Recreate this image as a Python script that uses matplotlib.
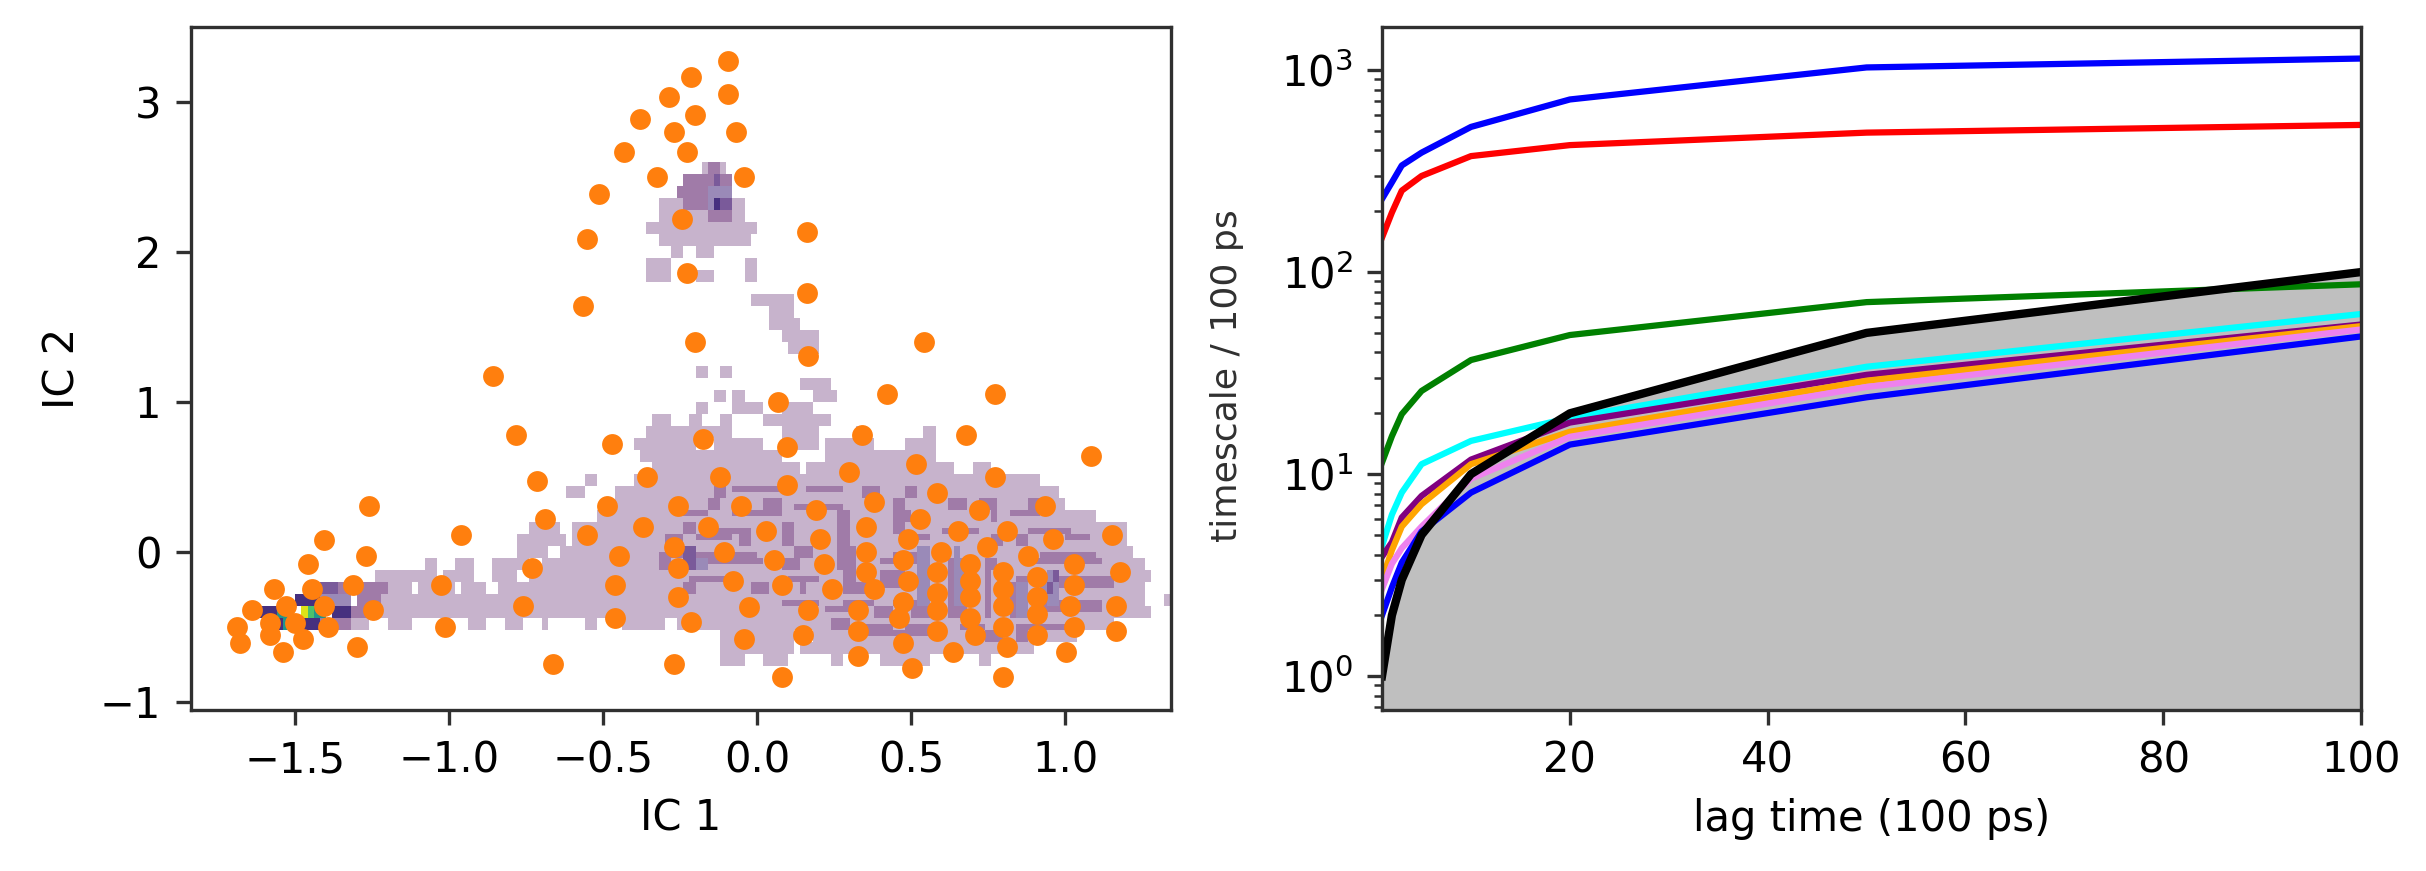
import matplotlib
matplotlib.use("Agg")
import matplotlib.pyplot as plt
import numpy as np
from matplotlib.colors import ListedColormap

# cluster centres
centers_x = [-0.784,-0.472,-0.716,-0.358,-1.259,-0.486,-0.690,-0.370,-1.407,-0.960,-0.554,-1.271,-0.447,-1.460,-0.730,
	-1.570,-1.447,-1.312,-1.028,-0.460,-1.639,-1.530,-1.407,-1.246,-0.759,-0.460,-1.690,-1.583,-1.501,-1.393,-1.014,
	-1.583,-1.678,-1.475,-1.298,-1.541,-0.662,-0.857,
	-0.203,0.542,0.165,0.421,0.773,0.069,-0.176,0.340,0.678,0.096,1.084,0.516,-0.122,0.299,0.773,0.096,0.585,0.379,
	-0.256,-0.053,0.191,0.719,0.934,0.529,-0.161,0.352,0.028,0.651,0.813,1.153,0.203,0.489,0.961,-0.271,0.747,-0.109,
	0.352,0.597,0.881,0.054,-0.256,0.217,0.473,0.692,1.029,0.352,0.585,0.800,1.179,0.908,-0.079,0.489,0.692,0.082,
	1.029,0.244,0.379,0.585,0.800,0.908,0.692,-0.256,0.473,-0.026,1.166,1.015,0.585,0.800,0.165,0.326,0.692,0.908,
	0.460,-0.216,0.800,0.585,1.029,0.326,1.166,0.149,0.707,0.908,-0.041,0.475,0.637,0.813,0.326,1.004,-0.271,0.502,
	0.082,0.800,
	-0.094,-0.216,-0.094,-0.285,-0.203,-0.379,-0.271,-0.067,-0.433,-0.229,-0.324,-0.041,-0.515,-0.243,0.163,-0.554,
	-0.229,0.163,-0.567]
centers_y = [0.778,0.722,0.471,0.500,0.305,0.305,0.222,0.167,0.082,0.109,0.109,-0.029,-0.029,-0.082,-0.111,
	-0.249,-0.249,-0.222,-0.222,-0.222,-0.389,-0.362,-0.362,-0.389,-0.362,-0.444,-0.504,-0.478,-0.478,-0.500,-0.500,
	-0.556,-0.611,-0.584,-0.638,-0.667,-0.749,1.175,
	1.400,1.400,1.305,1.055,1.055,0.998,0.749,0.776,0.776,0.696,0.636,0.583,0.500,0.529,0.500,0.445,0.389,0.333,
	0.307,0.307,0.278,0.278,0.307,0.222,0.167,0.167,0.140,0.140,0.140,0.111,0.084,0.084,0.084,0.029,0.029,0.000,
	0.000,0.000,-0.027,-0.055,-0.111,-0.082,-0.055,-0.082,-0.082,-0.137,-0.137,-0.137,-0.137,-0.167,-0.193,-0.193,-0.193,-0.222,
	-0.222,-0.249,-0.249,-0.278,-0.249,-0.304,-0.304,-0.304,-0.333,-0.367,-0.362,-0.362,-0.389,-0.362,-0.389,-0.389,-0.444,-0.415,
	-0.444,-0.471,-0.500,-0.529,-0.500,-0.529,-0.529,-0.556,-0.556,-0.556,-0.582,-0.611,-0.667,-0.638,-0.693,-0.667,-0.749,-0.778,
	-0.833,-0.833,
	3.276,3.165,3.056,3.030,2.915,2.889,2.802,2.802,2.665,2.665,2.498,2.498,2.389,2.222,2.136,2.083,
	1.860,1.723,1.638]

# density levels: row centre in IC 2 -> (from, to) spans in IC 1
density_light = {
	2.56: [(-.185,-.098)], 2.48: [(-.25,-.087)], 2.40: [(-.26,-.076)], 2.32: [(-.314,-.033)], 2.24: [(-.314,-.033)],
	2.16: [(-.358,0.0)], 2.08: [(-.314,-.168),(-.15,-.087),(-.076,-.022)], 2.00: [(-.287,-.25),(-.196,-.141)],
	1.92: [(-.358,-.277),(-.044,.01)], 1.84: [(-.358,-.277),(-.196,-.141),(-.044,-.006)],
	1.68: [(-.02,.12)], 1.60: [(.04,.12)], 1.52: [(.04,.14)], 1.44: [(.07,.2)], 1.36: [(.10,.2)],
	1.20: [(-.19,-.155),(-.11,-.075)], 1.12: [(.13,.236)], 1.04: [(-.14,-.10),(-.075,-.045),(.187,.26)],
	0.96: [(-.19,-.155),(-.087,.02),(.075,.17)], 0.88: [(-.34,-.28),(-.224,-.187),(-.11,-.075),(.012,.236)],
	0.80: [(-.36,-.075),(.075,.2),(.31,.34),(.547,.585)],
	0.72: [(-.41,-.21),(-.137,.025),(.075,.2),(.224,.385),(.47,.585)],
	0.64: [(-.385,-.236),(-.23,.087),(.224,.572)], 0.56: [(-.348,.137),(.16,.634),(.70,.77)],
	0.48: [(-.56,-.52),(-.41,.92)], 0.40: [(-.613,-.553),(-.466,.98)], 0.32: [(-.46,1.0)], 0.24: [(-.53,1.107)],
	0.16: [(-.737,-.64),(-.60,1.2)], 0.08: [(-.775,-.62),(-.59,1.206)], 0.00: [(-.775,-.67),(-.64,1.225)],
	-0.08: [(-1.07,-1.04),(-.98,-.915),(-.857,-.74),(-.71,1.256)],
	-0.16: [(-1.235,-1.05),(-1.02,-.915),(-.857,-.78),(-.737,1.28)],
	-0.24: [(-1.28,-1.127),(-1.094,-.975),(-.954,-.89),(-.835,1.256)],
	-0.32: [(-1.3,1.256),(1.31,1.337)], -0.40: [(-1.385,1.28)],
	-0.48: [(-1.45,-1.27),(-1.2,-1.12),(-.95,-.89),(-.83,-.76),(-.70,-.67),(-.56,-.52),(-.43,-.305),(-.26,1.157)],
	-0.56: [(-.11,.112),(.187,1.05)], -0.64: [(-.11,.112),(.137,.895)],
	-0.72: [(-.11,-.044),(.019,.1),(.236,.28),(.4,.56),(.715,.765)],
}
density_medium = {
	2.56: [(-.16,-.13)], 2.48: [(-.25,-.087)], 2.40: [(-.26,-.076)], 2.32: [(-.25,-.07)], 2.24: [(-.158,-.076)],
	0.40: [(-.137,-.1),(-.087,.112),(.15,.286),(.336,.41),(.47,.52)],
	0.32: [(-.15,-.125),(.02,.087),(.124,.286),(.45,.48),(.616,.67),(.727,.78),(.88,.93)],
	0.24: [(-.23,-.15),(-.08,.087),(.26,.305),(.43,.5),(.76,.78),(.81,.914)],
	0.16: [(-.23,-.2),(-.137,-.02),(.075,.118),(.267,.305),(.435,.485),(.61,.73),(.883,1.02)],
	0.08: [(-.305,-.23),(-.205,-.087),(-.06,-.012),(.075,.112),(.255,.305),(.46,.56),(.76,.796),(.846,.883),(.995,1.08)],
	0.00: [(-.323,.006),(.124,.187),(.26,.31),(.435,.56),(.634,.66),(.92,1.107)],
	-0.08: [(-.33,-.274),(-.218,.012),(.087,.137),(.267,.31),(.41,.547),(.628,.684),(.746,.783),(.858,1.12)],
	-0.16: [(-.218,-.1),(.1,.2),(.286,.31),(.4,.47),(.51,.56),(.628,.67),(.734,.77),(.846,1.157)],
	-0.24: [(-1.43,-1.2),(-.25,-.2),(-.025,.037),(.143,.168),(.286,.36),(.41,.5),(.628,.67),(.734,.77),(.82,.858),(.92,1.157)],
	-0.32: [(-1.3,-1.22),(.087,.2),(.286,.385),(.447,.56),(.628,.67),(.734,.77),(.82,.846),(.92,1.13)],
	-0.40: [(-1.32,-1.25),(.21,.31),(.373,.435),(.5,.56),(.628,.67),(.734,.77),(.82,.87),(.93,1.12)],
	-0.48: [(-1.43,-1.33),(.25,.3),(.348,.435),(.47,.572),(.653,.734),(.846,.995)],
	-0.56: [(.36,.572),(.734,.796),(.846,.883)],
}
density_lilac = {
	2.40: [(-.168,-.087)], 2.32: [(-.168,-.08)],
	0.00: [(.51,.56),(.63,.66)], -0.08: [(-.2,-.15),(.51,.56),(.63,.67)], -0.16: [(.51,.56),(.63,.67),(.94,.98)],
	-0.24: [(.51,.55),(.63,.67),(.83,.87),(.93,.98)], -0.32: [(-1.413,-1.33),(.51,.55),(.63,.67),(.83,.87),(.94,.98)],
	-0.40: [(.83,.87)],
}
density_purple = {
	2.48: [(-.14,-.11)], 2.32: [(-.14,-.09)],
	0.00: [(-.25,-.19)], -0.08: [(-.24,-.21)], -0.24: [(-1.42,-1.35),(.94,.97)], -0.16: [(.95,.98)],
}
density_indigo = {
	2.32: [(-.14,-.11)],
	-0.32: [(-1.495,-1.424)], -0.40: [(-1.61,-1.56),(-1.375,-1.32)], -0.48: [(-1.58,-1.53),(-1.48,-1.43)],
}
density_teal = {-0.40: [(-1.56,-1.53),(-1.45,-1.41)], -0.48: [(-1.55,-1.53)]}
density_green = {-0.40: [(-1.49,-1.45)]}
density_yellow = {-0.40: [(-1.49,-1.47)]}
density_levels = [density_light, density_medium, density_lilac, density_purple,
	density_indigo, density_teal, density_green, density_yellow]
density_colors = ['#c7b3cc', '#a07ba8', '#9a8ab8', '#7a5a9a', '#46307f', '#1f968b', '#4ac16d', '#dde318']

# implied timescales
lags = [1, 2, 3, 5, 10, 20, 50, 100]
its_colors = ['blue', 'red', 'green', 'cyan', 'purple', 'orange', 'violet', 'blue']
its_values = [
	[230, 278, 337, 390, 523, 715, 1030, 1140],
	[148, 197, 253, 299, 375, 425, 490, 535],
	[11.4, 15.4, 19.8, 25.8, 36.7, 48.8, 71, 87],
	[4.4, 6.3, 8.1, 11.2, 14.6, 19, 34, 62],
	[3.9, 4.6, 6.1, 7.8, 11.8, 18, 31, 55],
	[3.0, 4.2, 5.5, 7.1, 11.2, 16.2, 29, 54],
	[2.7, 3.6, 4.3, 5.5, 9.5, 15.3, 27, 52],
	[2.0, 2.75, 3.65, 5.2, 8.1, 14, 24, 48],
]

plt.rcParams['axes.edgecolor'] = '#303030'
plt.rcParams['xtick.color'] = '#303030'
plt.rcParams['ytick.color'] = '#303030'
plt.rcParams['xtick.labelcolor'] = 'black'
plt.rcParams['ytick.labelcolor'] = 'black'

W, H = 2426, 871
fig = plt.figure(figsize=(W/300, H/300), dpi=300)
ax_left = fig.add_axes([190.5/W, 1-710/H, (1171-190.5)/W, 683/H])
ax_right = fig.add_axes([1382/W, 1-710/H, (2361-1382)/W, 683/H])

# left panel, density then the centres on top
# each row is two sub rows: long medium spans in the big basin fill only one, they are thin contour rings there
x_step, y_step = 0.02, 0.04
x_edges = np.arange(-1.84, 1.36, x_step)
y_edges = np.arange(-0.92, 2.68, y_step)
grid = np.zeros((len(y_edges)-1, len(x_edges)-1))
for level, rows in enumerate(density_levels):
	for y, spans in rows.items():
		row = int(round((y-y_edges[0]-y_step)/y_step))
		for x0, x1 in spans:
			col0 = int(round((x0-x_edges[0])/x_step))
			col1 = int(round((x1-x_edges[0])/x_step))
			if level == 1 and y < 1 and x0 > -1 and x1-x0 > 0.08:
				sub = row + (int(round(y/0.08)) % 2)
				grid[sub, col0:col1] = level+1
			else:
				grid[row:row+2, col0:col1] = level+1
ax_left.pcolormesh(x_edges, y_edges, np.ma.masked_equal(grid, 0), cmap=ListedColormap(density_colors),
	vmin=0.5, vmax=len(density_colors)+0.5, antialiased=False, linewidth=0)
ax_left.scatter(centers_x, centers_y, s=25, c='C1', linewidths=0)
ax_left.set_xlim(-1.84, 1.344)
ax_left.set_ylim(-1.055, 3.5)
ax_left.set_xlabel('IC 1')
ax_left.set_ylabel('IC 2')

# right panel
for values, color in zip(its_values, its_colors):
	ax_right.semilogy(lags, values, color=color, linewidth=1.5)
ax_right.plot(lags, lags, color='black', linewidth=2)
ax_right.fill_between(lags, 0.68, lags, color='grey', alpha=0.5, linewidth=0)
ax_right.set_xlim(1, 100)
ax_right.set_ylim(0.68, 1633)
ax_right.set_xlabel('lag time (100 ps)')
ax_right.set_ylabel('timescale / 100 ps', fontsize=8.7, color='#303030')
ax_right.yaxis.set_label_coords(-0.141, 0.489)

plt.savefig('out.png', dpi=300)
